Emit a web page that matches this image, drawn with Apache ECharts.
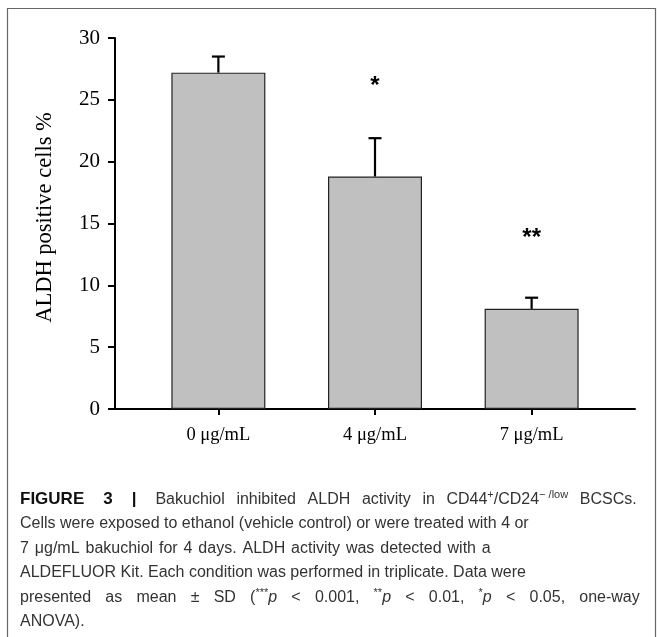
<!DOCTYPE html>
<html>
<head>
<meta charset="utf-8">
<script src="https://cdn.jsdelivr.net/npm/echarts@6/dist/echarts.min.js"></script>
<style>
html,body{margin:0;padding:0;background:#fff;}
#c{width:657px;height:637px;}
</style>
</head>
<body>
<div id="c"></div>
<script>
// ---- data ----
var categories = ['0 \u03bcg/mL', '4 \u03bcg/mL', '7 \u03bcg/mL'];
var means = [27.2, 18.8, 8.1];
var sds = [1.3, 3.1, 0.9];
var sigLabels = ['', '*', '**'];
var sigY = [null, 26.4, 14.1];
var yTicks = [0, 5, 10, 15, 20, 25, 30];

// caption (rich-text markup; {jN| } are justified word spaces)
var captionLines = [
  '{b|FIGURE}{jb| }{b|3}{jb| }{b||}{jb| }Bakuchiol{j1| }inhibited{j1| }ALDH{j1| }activity{j1| }in{j1| }CD44{sup|+}/CD24{sup|\u2212 /low}{j1| }BCSCs.',
  'Cells were exposed to ethanol (vehicle control) or were treated with 4 or',
  '7{j3| }\u03bcg/mL{j3| }bakuchiol{j3| }for{j3| }4{j3| }days.{j3| }ALDH{j3| }activity{j3| }was{j3| }detected{j3| }with{j3| }a',
  'ALDEFLUOR Kit. Each condition was performed in triplicate. Data were',
  'presented{j5| }as{j5| }mean{j5| }\u00b1{j5| }SD{j5| }({sup|***}{i|p}{j5| }<{j5| }0.001,{j5| }{sup|**}{i|p}{j5| }<{j5| }0.01,{j5| }{sup|*}{i|p}{j5| }<{j5| }0.05,{j5| }one-way',
  'ANOVA).'
];

var barData = means.map(function (m, i) { return [i, m]; });
var errData = means.map(function (m, i) { return [i, m, m + sds[i]]; });
var sigData = [];
sigLabels.forEach(function (s, i) { if (s) sigData.push([i, sigY[i], s]); });

var chart = echarts.init(document.getElementById('c'), null, {renderer: 'canvas'});
var serif = '"Liberation Serif", "DejaVu Serif", serif';
var sans = '"Liberation Sans", Arial, sans-serif';
var capFs = 16;
function sp(w) { return {fontFamily: sans, fontSize: capFs, width: w, lineHeight: 24.5}; }

chart.setOption({
  backgroundColor: '#fff',
  animation: false,
  grid: {left: 115, right: 22, top: 38, bottom: 228, containLabel: false},
  xAxis: {
    type: 'value',
    min: -0.66,
    max: 2.66,
    splitLine: {show: false},
    axisLine: {show: true, onZero: false, lineStyle: {color: '#000', width: 2}},
    axisTick: {show: true, customValues: [0, 1, 2], length: 6, lineStyle: {color: '#000', width: 2}},
    axisLabel: {
      customValues: [0, 1, 2],
      formatter: function (v) { return categories[Math.round(v)]; },
      fontFamily: serif, fontSize: 18.5, color: '#000', margin: 17
    }
  },
  yAxis: {
    type: 'value',
    min: 0, max: 30, interval: 5,
    name: 'ALDH positive cells %',
    nameLocation: 'middle',
    nameGap: 58,
    nameTextStyle: {fontFamily: serif, fontSize: 22.5, color: '#000', padding: [0, 0, 0, 12]},
    splitLine: {show: false},
    axisLine: {show: true, onZero: false, lineStyle: {color: '#000', width: 2}},
    axisTick: {show: true, length: 7, lineStyle: {color: '#000', width: 2}},
    axisLabel: {fontFamily: serif, fontSize: 21, color: '#000', margin: 15}
  },
  series: [
    {
      type: 'bar',
      data: barData,
      barWidth: 94,
      itemStyle: {color: '#c0c0c0', borderColor: '#222', borderWidth: 1.2}
    },
    {
      type: 'custom',
      data: errData,
      z: 3,
      renderItem: function (params, api) {
        var x = api.value(0);
        var p0 = api.coord([x, api.value(1)]);
        var p1 = api.coord([x, api.value(2)]);
        var hw = 6.5;
        return {
          type: 'group',
          children: [
            {type: 'line', shape: {x1: p0[0], y1: p0[1], x2: p1[0], y2: p1[1]}, style: {stroke: '#000', lineWidth: 2.2}},
            {type: 'line', shape: {x1: p1[0] - hw, y1: p1[1], x2: p1[0] + hw, y2: p1[1]}, style: {stroke: '#000', lineWidth: 2.2}}
          ]
        };
      }
    },
    {
      type: 'custom',
      data: sigData,
      z: 3,
      renderItem: function (params, api) {
        var p = api.coord([api.value(0), api.value(1)]);
        return {
          type: 'text',
          x: p[0], y: p[1] + 3.5,
          style: {text: sigData[params.dataIndex][2], fontFamily: sans, fontWeight: 'bold', fontSize: 24, fill: '#000', align: 'center', verticalAlign: 'middle'}
        };
      }
    }
  ],
  graphic: [
    {type: 'rect', shape: {x: 7.5, y: 8.5, width: 648, height: 640}, style: {fill: 'none', stroke: '#666', lineWidth: 1.2}, silent: true},
    {
      type: 'text', left: 20, top: 487,
      style: {
        text: captionLines.join('\n'),
        fontFamily: sans, fontSize: capFs, fill: '#333', lineHeight: 24.5,
        rich: {
          b: {fontFamily: sans, fontSize: 17, fontWeight: 'bold', fill: '#111', lineHeight: 24.5},
          sup: {fontFamily: sans, fontSize: 11, fill: '#333', padding: [0, 0, 8, 0]},
          i: {fontFamily: sans, fontSize: capFs, fontStyle: 'italic', fill: '#333', lineHeight: 24.5},
          jb: sp(19),
          j1: sp(11.6),
          j3: sp(5.9),
          j5: sp(14.2)
        }
      }
    }
  ]
});
</script>
</body>
</html>
